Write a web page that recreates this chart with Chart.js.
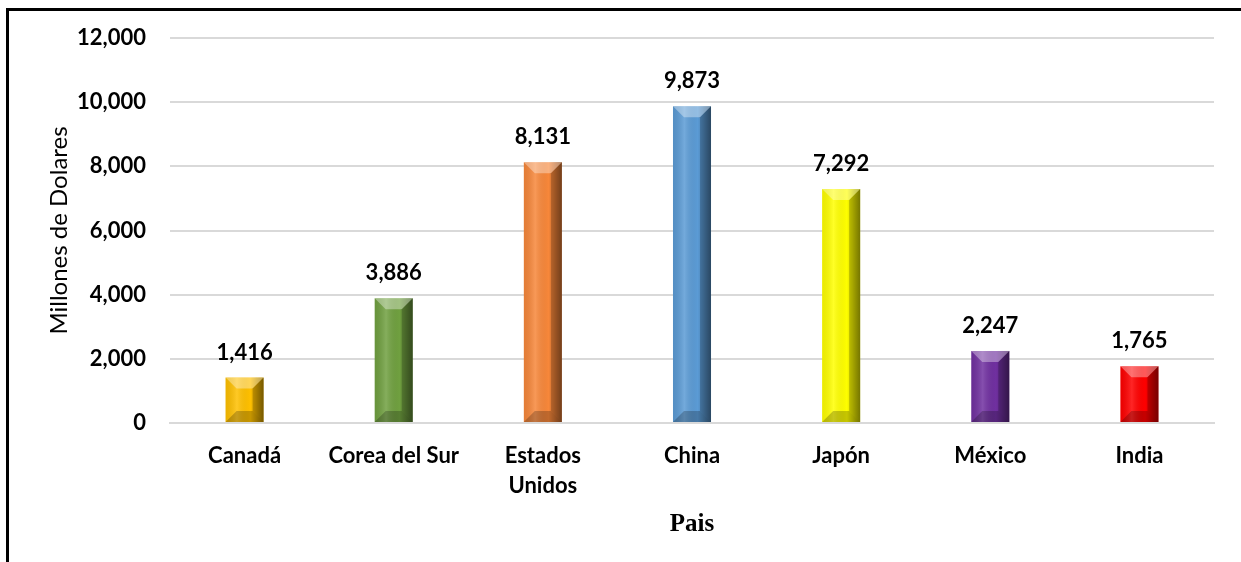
<!DOCTYPE html>
<html>
<head>
<meta charset="utf-8">
<script src="https://cdn.jsdelivr.net/npm/chart.js@4/dist/chart.umd.min.js"></script>
<style>
  html, body { margin: 0; padding: 0; background: #fff; }
  #wrap { position: relative; width: 1241px; height: 562px; overflow: hidden; }
  #frame { position: absolute; left: 6px; top: 8px; width: 1300px; height: 600px;
           border-left: 3px solid #000; border-top: 3px solid #000; }
  #c { position: absolute; left: 0; top: 0; }
</style>
</head>
<body>
<div id="wrap">
  <div id="frame"></div>
  <canvas id="c" width="1241" height="562"></canvas>
</div>
<script>
const paises = ["Canadá", ["Corea del Sur"], ["Estados", "Unidos"], "China", "Japón", "México", "India"];
const valores = [1416, 3886, 8131, 9873, 7292, 2247, 1765];
const colores = ["#FFC000", "#70A040", "#F7873A", "#5B9BD5", "#FFFF00", "#7030A0", "#FF0000"];
const yTicks = [0, 2000, 4000, 6000, 8000, 10000, 12000];

const fmt = v => v.toLocaleString("en-US");

// bevel shading over each bar + value labels
const bevel = {
  id: "bevel",
  afterDatasetsDraw(chart) {
    const ctx = chart.ctx;
    chart.getDatasetMeta(0).data.forEach((bar, i) => {
      const w = bar.width, l = bar.x - w / 2, r = bar.x + w / 2, t = bar.y, b = bar.base;
      const bv = Math.min(w / 2, 11, (b - t) / 2);
      ctx.save();
      const g = ctx.createLinearGradient(l, 0, r, 0);
      g.addColorStop(0, "rgba(0,0,0,0.08)");
      g.addColorStop(0.3, "rgba(255,255,255,0.15)");
      g.addColorStop(0.65, "rgba(0,0,0,0.0)");
      g.addColorStop(1, "rgba(0,0,0,0.42)");
      ctx.fillStyle = g;
      ctx.fillRect(l, t, w, b - t);
      // top facet
      ctx.beginPath();
      ctx.moveTo(l, t); ctx.lineTo(r, t); ctx.lineTo(r - bv, t + bv); ctx.lineTo(l + bv, t + bv); ctx.closePath();
      ctx.fillStyle = "rgba(255,255,255,0.35)";
      ctx.fill();
      // bottom facet
      ctx.beginPath();
      ctx.moveTo(l, b); ctx.lineTo(r, b); ctx.lineTo(r - bv, b - bv); ctx.lineTo(l + bv, b - bv); ctx.closePath();
      ctx.fillStyle = "rgba(0,0,0,0.22)";
      ctx.fill();
      // right facet
      ctx.beginPath();
      ctx.moveTo(r, t); ctx.lineTo(r, b); ctx.lineTo(r - bv, b - bv); ctx.lineTo(r - bv, t + bv); ctx.closePath();
      ctx.fillStyle = "rgba(0,0,0,0.2)";
      ctx.fill();
      // label
      ctx.fillStyle = "#000";
      ctx.font = "bold 22px Lato";
      ctx.textAlign = "center";
      ctx.textBaseline = "bottom";
      ctx.fillText(fmt(valores[i]), bar.x, t - 14);
      ctx.restore();
    });
  }
};

new Chart(document.getElementById("c"), {
  type: "bar",
  data: {
    labels: paises,
    datasets: [{ data: valores, backgroundColor: colores, borderWidth: 0, barPercentage: 0.255, categoryPercentage: 1 }]
  },
  options: {
    responsive: false, animation: false,
    layout: { padding: { left: 0, top: 38, right: 27, bottom: 0 } },
    plugins: { legend: { display: false }, tooltip: { enabled: false } },
    scales: {
      x: {
        grid: { display: false, drawTicks: false },
        border: { color: "#d9d9d9", width: 2 },
        ticks: { color: "#000", font: { family: "Lato", size: 22, weight: "bold", lineHeight: 1.35 }, padding: 18, maxRotation: 0, autoSkip: false },
        title: { display: true, text: "Pais", color: "#000", font: { family: "Liberation Serif", size: 25, weight: "bold" }, padding: { top: 0, bottom: 22 } },
        afterFit: s => { s.height = 562 - 423; }
      },
      y: {
        min: 0, max: 12000,
        afterBuildTicks: s => { s.ticks = yTicks.map(v => ({ value: v })); },
        grid: { color: "#d9d9d9", lineWidth: 2, drawTicks: false },
        border: { display: false },
        ticks: { color: "#000", font: { family: "Lato", size: 22, weight: "bold" }, padding: 24, callback: v => fmt(v) },
        title: { display: true, text: "Millones de Dolares", color: "#000", font: { family: "Lato", size: 24 }, padding: { top: 45, bottom: 0 } },
        afterFit: s => { s.width = 170; }
      }
    }
  },
  plugins: [bevel]
});
</script>
</body>
</html>
